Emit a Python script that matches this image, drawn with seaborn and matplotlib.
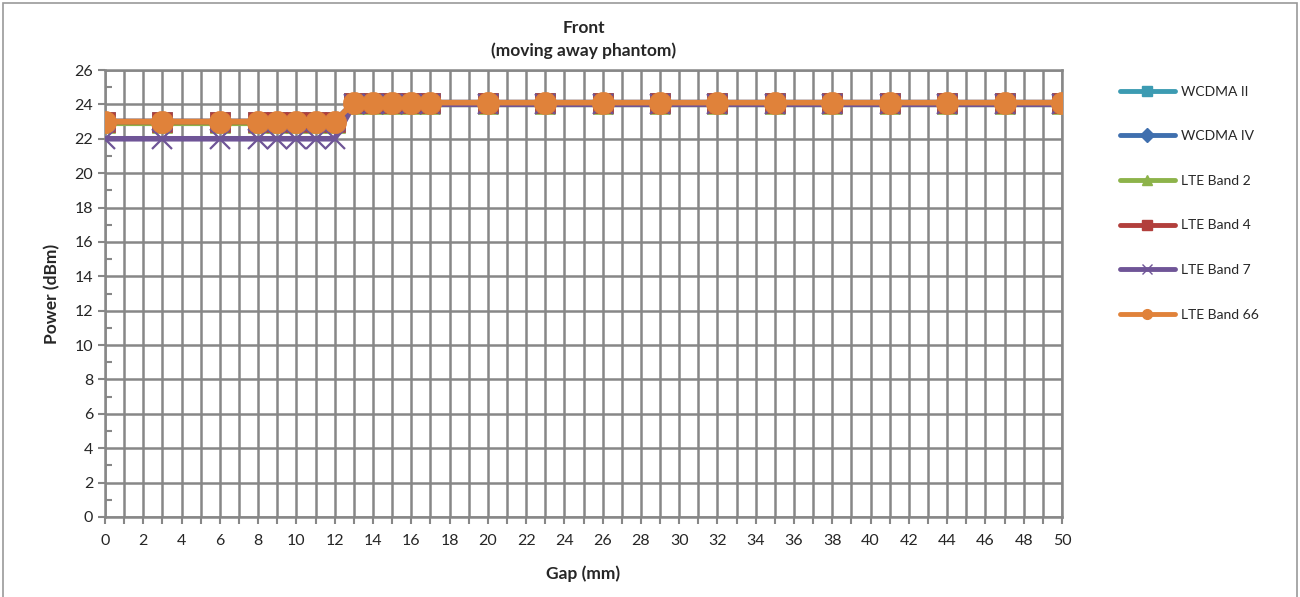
import pandas as pd
import matplotlib.pyplot as plt
import seaborn as sns
from matplotlib.ticker import MultipleLocator
from matplotlib.lines import Line2D
from matplotlib.patches import Rectangle

# gap positions (mm)
gap = [0, 3, 6, 8, 9, 10, 11, 12, 13, 14, 15, 16, 17, 20, 23, 26, 29, 32, 35, 38, 41, 44, 47, 50]

# power (dBm) per band
wcdma_2 = [23.0] * 8 + [24.1] * 16
wcdma_4 = [23.0] * 8 + [24.1] * 16
lte_b2 = [22.9] * 8 + [24.0] * 16
lte_b4 = [23.0] * 8 + [24.1] * 16
lte_b7 = [22.0] * 8 + [24.0] * 16
lte_b66 = [23.0] * 8 + [24.1] * 16

series = [
    ("WCDMA II", wcdma_2, "#3C9BB2", "s"),
    ("WCDMA IV", wcdma_4, "#3F6FAE", "D"),
    ("LTE Band 2", lte_b2, "#8DB34A", "^"),
    ("LTE Band 4", lte_b4, "#B23F3C", "s"),
    ("LTE Band 7", lte_b7, "#6F5597", "x"),
    ("LTE Band 66", lte_b66, "#E0823A", "o"),
]

sns.set_theme(style="white")
plt.rcParams["font.family"] = ["Lato", "DejaVu Sans"]

fig = plt.figure(figsize=(13, 5.97), dpi=100)
ax = fig.add_axes([105 / 1300, 80 / 597, 957 / 1300, 447 / 597])

grid_c = "#878787"
handles = []
for name, vals, color, mk in series:
    df = pd.DataFrame({"Gap": gap, "Power": vals})
    ms = {"o": 16, "s": 15, "x": 15, "^": 14, "D": 11}[mk]
    sns.lineplot(data=df, x="Gap", y="Power", ax=ax, color=color, linewidth=4,
                 marker=mk, markersize=ms, markeredgewidth=1.6 if mk == "x" else 0.5,
                 markeredgecolor=color, zorder=3)
    handles.append(Line2D([0], [0], color=color, lw=3.5, marker=mk,
                          markersize=7, markeredgecolor=color, label=name))

ax.set_xlim(0, 50)
ax.set_ylim(0, 26)
ax.xaxis.set_major_locator(MultipleLocator(2))
ax.xaxis.set_minor_locator(MultipleLocator(1))
ax.yaxis.set_major_locator(MultipleLocator(2))
ax.yaxis.set_minor_locator(MultipleLocator(1))

ax.grid(True, which="major", color=grid_c, lw=1.8, zorder=0)
ax.grid(True, which="minor", axis="x", color=grid_c, lw=1.8, zorder=0)
ax.set_axisbelow(True)
for s in ax.spines.values():
    s.set_color(grid_c)
    s.set_linewidth(1.8)

ax.tick_params(axis="x", which="both", direction="out", length=5, width=1.5,
               color=grid_c, labelsize=11.5, pad=7, bottom=True)
ax.tick_params(axis="y", which="major", direction="out", length=5, width=1.5,
               color=grid_c, labelsize=11.5, left=True)
ax.tick_params(axis="y", which="minor", direction="in", length=5, width=1.5,
               color=grid_c, left=True)

ax.set_xlabel("Gap (mm)", fontsize=12.5, fontweight="bold", labelpad=13)
ax.set_ylabel("Power (dBm)", fontsize=12.5, fontweight="bold", labelpad=10)
ax.set_title("Front\n(moving away phantom)", fontsize=12.5, fontweight="bold",
             linespacing=1.45, pad=10)

fig.legend(handles=handles, loc="upper left", bbox_to_anchor=(1114 / 1300, 1 - 80 / 597),
           frameon=False, fontsize=10, handlelength=4.0, labelspacing=2.35,
           handletextpad=0.4, borderaxespad=0)

fig.patches.append(Rectangle((3 / 1300, -0.1), 1294 / 1300, 1.1 - 3 / 597,
                             transform=fig.transFigure, fill=False,
                             edgecolor="#9a9a9a", lw=1.2))

plt.savefig("out.png", dpi=100)
